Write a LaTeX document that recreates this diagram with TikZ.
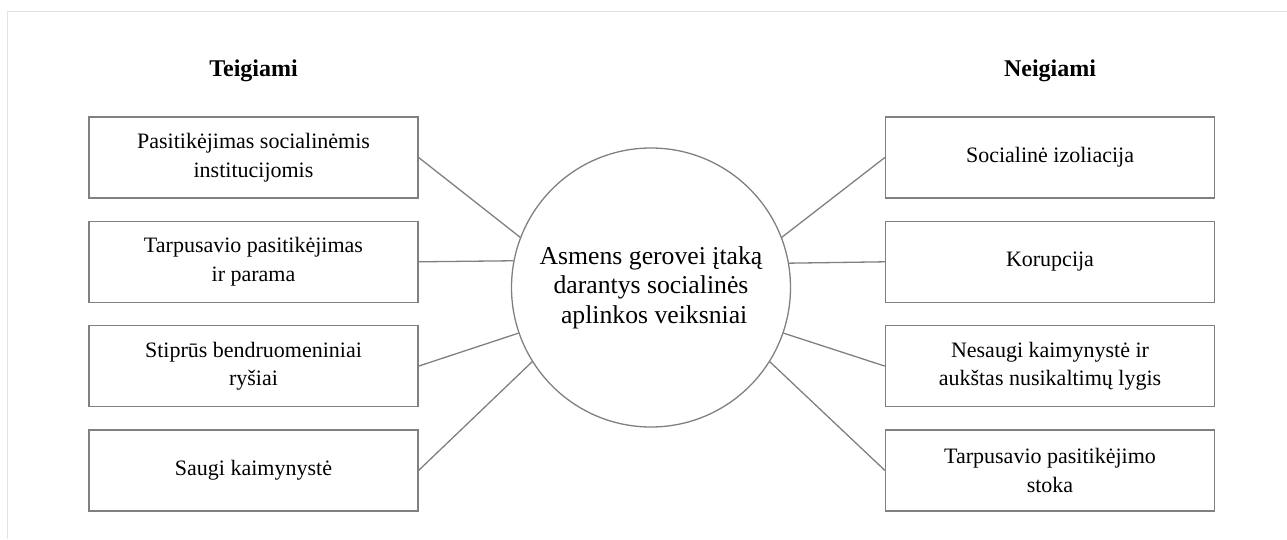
\documentclass[tikz,border=0pt]{standalone}
\usepackage{fontspec}
\setmainfont{Liberation Serif}
\usetikzlibrary{positioning}

\begin{document}
\begin{tikzpicture}[x=1pt,y=-1pt,
  factorbox/.style={draw=boxgray,line width=1.3pt,minimum width=329pt,minimum height=81pt,
    inner sep=0pt,align=center,font=\fontsize{22}{28.5}\selectfont},
  hubnode/.style={circle,draw=boxgray,line width=1.3pt,minimum size=279pt,inner sep=0pt,
    align=center,font=\fontsize{25.7}{29.5}\selectfont},
  grouphead/.style={anchor=base,font=\fontsize{24}{28}\selectfont\bfseries},
  link/.style={draw=boxgray,line width=1.3pt}]
\definecolor{boxgray}{HTML}{808080}
\definecolor{framegray}{HTML}{E2E2E2}
\useasboundingbox (0,0) rectangle (1287,539);
\draw[framegray,line width=1.6pt] (7.5,539) -- (7.5,11.5) -- (1287,11.5);

% headings
\node[grouphead] (teig) at (253.5,76) {Teigiami};
\node[grouphead] (neig) at (1050,76) {Neigiami};

% centre
\node[hubnode] (hub) at (651,287.5) {Asmens gerovei įtaką\\darantys socialinės\\\ aplinkos veiksniai};

% positive factors
\node[factorbox] (pos1) at (253.5,157.5) {Pasitikėjimas socialinėmis\\institucijomis};
\node[factorbox,below=22pt of pos1] (pos2) {Tarpusavio pasitikėjimas\\ir parama};
\node[factorbox,below=22pt of pos2] (pos3) {Stiprūs bendruomeniniai\\ryšiai};
\node[factorbox,below=22pt of pos3] (pos4) {Saugi kaimynystė};

% negative factors
\node[factorbox] (neg1) at (1050,157.5) {Socialinė izoliacija};
\node[factorbox,below=22pt of neg1] (neg2) {Korupcija};
\node[factorbox,below=22pt of neg2] (neg3) {Nesaugi kaimynystė ir\\aukštas nusikaltimų lygis};
\node[factorbox,below=22pt of neg3] (neg4) {Tarpusavio pasitikėjimo\\stoka};

% connectors
\draw[link] (pos1.east) -- (hub.159);
\draw[link] (pos2.east) -- (hub.169.5);
\draw[link] (pos3.east) -- (hub.199);
\draw[link] (pos4.east) -- (hub.212.5);
\draw[link] (neg1.west) -- (hub.21);
\draw[link] (neg2.west) -- (hub.10.5);
\draw[link] (neg3.west) -- (hub.-19);
\draw[link] (neg4.west) -- (hub.-32.5);
\end{tikzpicture}
\end{document}
